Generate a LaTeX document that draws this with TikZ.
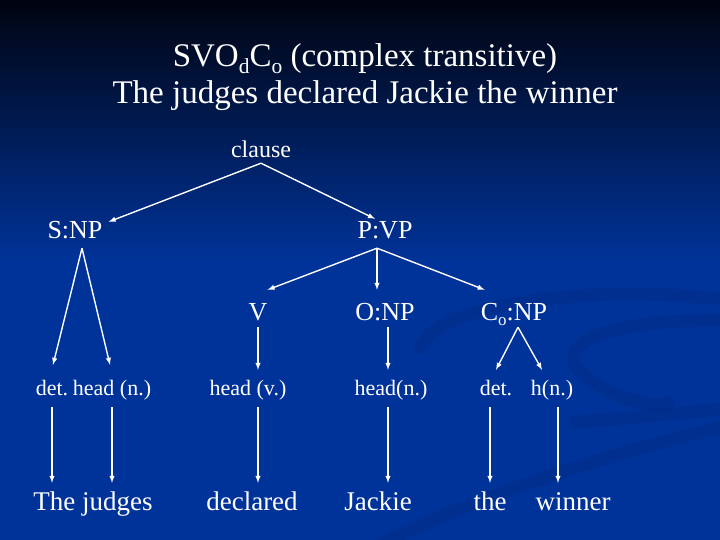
\documentclass[tikz,border=0pt]{standalone}
\usepackage{fontspec}
\setmainfont{Liberation Serif}
\usetikzlibrary{arrows}

\definecolor{slidetop}{RGB}{0,4,16}
\definecolor{slideblue}{RGB}{0,51,153}
\definecolor{swoosh}{RGB}{0,42,130}

\newcommand\lowsub[1]{\raisebox{-0.2em}{\scalebox{0.65}{#1}}}

\begin{document}
\begin{tikzpicture}[
x=1pt,y=-1pt,
lbl/.style={
  text=white,
  inner sep=0pt,
  anchor=base
},
ttl/.style={
  lbl,
  font=\fontsize{33}{36}\selectfont
},
top/.style={
  lbl,
  font=\fontsize{24}{28}\selectfont,
  text depth=5pt
},
phr/.style={
  lbl,
  font=\fontsize{26}{30}\selectfont,
  text height=19pt,
  text depth=10pt
},
cat/.style={
  lbl,
  font=\fontsize{26}{30}\selectfont,
  text height=30pt,
  text depth=7pt
},
fun/.style={
  lbl,
  font=\fontsize{22}{26}\selectfont,
  text height=25pt,
  text depth=12pt
},
wrd/.style={
  lbl,
  font=\fontsize{27}{30}\selectfont,
  text height=27pt,
  text depth=6pt
},
arr/.style={
  draw=white,
  line width=1.4pt,
  -latex
}
]
% background
\useasboundingbox (0,0) rectangle (720,540);
\shade[top color=slidetop,bottom color=slideblue] (0,0) rectangle (720,262);
\fill[slideblue] (0,261) rectangle (720,540);
\begin{scope}[swoosh,line width=13pt,line cap=round,opacity=0.4]
\draw (420,348) .. controls (440,300) and (600,285) .. (730,300);
\draw (730,320) .. controls (610,318) and (540,345) .. (590,380)
  .. controls (625,402) and (660,410) .. (668,402);
\draw (575,422) .. controls (630,418) and (690,412) .. (730,408);
\draw (380,545) .. controls (480,495) and (620,450) .. (730,425);
\end{scope}

% title
\node[ttl] (title1) at (365,67)
  {SVO\lowsub{d}C\lowsub{o} (complex transitive)};
\node[ttl] (title2) at (365,104)
  {The judges declared Jackie the winner};

% tree
\node[top] (clause) at (261,158) {clause};

\node[phr] (snp) at (75,238) {S:NP};
\node[phr] (pvp) at (385,238) {P:VP};

\node[cat] (v) at (258,320) {V};
\node[cat] (onp) at (385,320) {O:NP};
\node[cat] (conp) at (514,320) {C\lowsub{o}:NP};

\node[fun] (det1) at (52,395) {det.};
\node[fun] (head1) at (112,395) {head (n.)};
\node[fun] (headv) at (248,395) {head (v.)};
\node[fun] (headn) at (391,395) {head(n.)};
\node[fun] (det2) at (496,395) {det.};
\node[fun] (hn2) at (552,395) {h(n.)};

\node[wrd] (judges) at (93,510) {The judges};
\node[wrd] (declared) at (252,510) {declared};
\node[wrd] (jackie) at (378,510) {Jackie};
\node[wrd] (the) at (490,510) {the};
\node[wrd] (winner) at (573,510) {winner};

\draw[arr] (clause.south) -- ([shift={(6pt,-3pt)}]snp.north east);
\draw[arr] (clause.south) -- ([xshift=-10pt]pvp.north);

\draw[arr] ([xshift=-8pt]pvp.south) -- (v.north east);
\draw[arr] ([xshift=-8pt]pvp.south) -- ([xshift=-8pt]onp.north);
\draw[arr] ([xshift=-8pt]pvp.south) -- ([xshift=4pt]conp.north west);

\draw[arr] ([xshift=7pt]snp.south) -- ([shift={(1pt,5pt)}]det1.north);
\draw[arr] ([xshift=7pt]snp.south) -- ([shift={(-2pt,5pt)}]head1.north);
\draw[arr] (det1.south) -- (det1.south |- judges.north);
\draw[arr] (head1.south) -- (head1.south |- judges.north);

\draw[arr] (v.south) -- (v.south |- headv.north);
\draw[arr] (v.south |- headv.south) -- (v.south |- declared.north);

\draw[arr] ([xshift=3pt]onp.south) -- ([xshift=3pt]onp.south |- headn.north);
\draw[arr] ([xshift=3pt]onp.south |- headn.south) -- ([xshift=3pt]onp.south |- jackie.north);

\draw[arr] ([xshift=4pt]conp.south) -- (det2.north);
\draw[arr] ([xshift=4pt]conp.south) -- ([xshift=-10pt]hn2.north);
\draw[arr] (the.north |- det2.south) -- (the.north);
\draw[arr] ([xshift=6pt]hn2.south) -- ([xshift=6pt]hn2.south |- winner.north);

\end{tikzpicture}
\end{document}
